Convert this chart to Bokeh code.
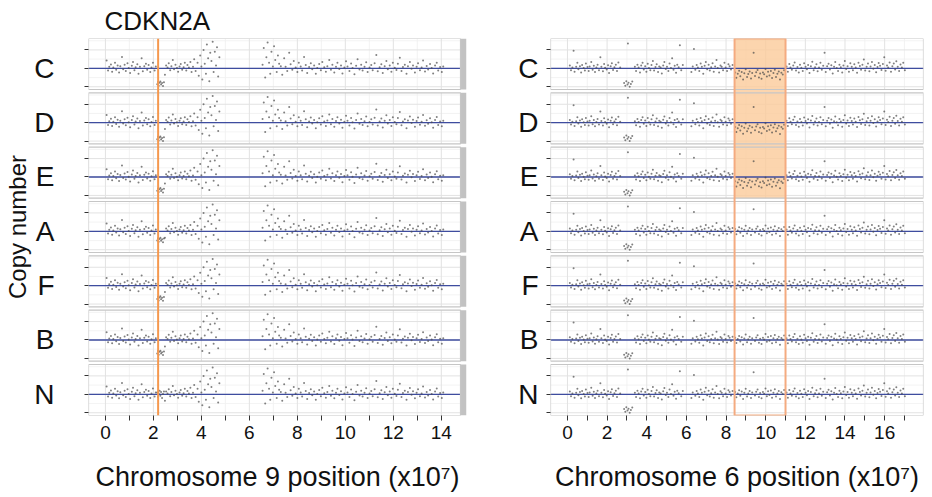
import numpy as np
from bokeh.plotting import figure
from bokeh.layouts import row
from bokeh.models import Range1d, FixedTicker, CustomJSTickFormatter, Span
from bokeh.embed import file_html
from bokeh.resources import INLINE

# ---------------------------------------------------------------- data
SAMPLES = ["C", "D", "E", "A", "F", "B", "N"]

# Chromosome 9 probes: position (x10^7) and log-ratio deviation from the baseline
CHR9_P_DISTAL_POS = [0.05, 0.11, 0.16, 0.23, 0.28, 0.33, 0.40, 0.45, 0.51, 0.57,
                     0.62, 0.69, 0.74, 0.80, 0.85, 0.92, 0.97, 1.03, 1.10, 1.15,
                     1.21, 1.26, 1.33, 1.38, 1.44, 1.51, 1.56, 1.62, 1.69, 1.74,
                     1.80, 1.87, 1.92, 1.98, 2.05, 2.10]
CHR9_P_DISTAL_DEV = [0.42, -0.12, 0.08, 0.21, -0.18, 0.05, 0.30, -0.07, 0.16, -0.22,
                     0.11, 0.62, -0.05, 0.19, -0.14, 0.27, 0.02, -0.25, 0.14, 0.35,
                     -0.10, 0.06, 0.22, -0.30, 0.09, 0.55, -0.16, 0.12, 0.25, -0.08,
                     0.18, -0.20, 0.04, 0.31, -0.12, 0.10]
CHR9_LOCUS_POS = [2.16, 2.19, 2.22, 2.26, 2.29, 2.32, 2.36, 2.40, 2.44]
CHR9_LOCUS_DEV = [0.10, -0.15, 0.05, 0.20, -0.08, 0.12, -0.20, 0.02, 0.15]
CHR9_P_PROX_POS = [2.48, 2.53, 2.59, 2.64, 2.70, 2.75, 2.81, 2.86, 2.92, 2.98,
                   3.03, 3.09, 3.14, 3.20, 3.26, 3.31, 3.37, 3.42, 3.48, 3.54,
                   3.59, 3.65, 3.70, 3.76]
CHR9_P_PROX_DEV = [-0.35, 0.15, 0.05, 0.28, -0.10, 0.12, 0.45, -0.05, 0.20, 0.02,
                   -0.18, 0.10, 0.24, -0.08, 0.06, 0.30, -0.12, 0.18, 0.04, 0.35,
                   -0.20, 0.08, 0.50, -0.15]
CHR9_PERI_P_POS = [3.84, 3.89, 3.95, 4.00, 4.04, 4.09, 4.14, 4.19, 4.23, 4.28,
                   4.33, 4.37, 4.42, 4.47, 4.51, 4.56, 4.61, 4.65, 4.70, 4.75]
CHR9_PERI_P_DEV = [0.30, -0.40, 0.70, 0.10, -0.60, 1.00, 0.25, -0.30, 1.30, 0.55,
                   -0.70, 0.85, 0.40, 1.45, -0.20, 0.90, 0.15, 1.15, -0.45, 0.60]
CHR9_PERI_Q_POS = [6.55, 6.60, 6.66, 6.71, 6.76, 6.82, 6.87, 6.92, 6.98, 7.03,
                   7.08, 7.14, 7.19, 7.24]
CHR9_PERI_Q_DEV = [0.20, 1.10, -0.50, 0.60, 1.40, 0.30, -0.30, 0.90, 0.10, 1.20,
                   0.45, -0.20, 0.70, 0.25]
CHR9_Q_POS = [7.31, 7.37, 7.45, 7.51, 7.58, 7.66, 7.72, 7.79, 7.85, 7.93,
              8.00, 8.06, 8.14, 8.20, 8.28, 8.35, 8.41, 8.49, 8.56, 8.62,
              8.70, 8.77, 8.83, 8.91, 8.98, 9.04, 9.12, 9.19, 9.25, 9.33,
              9.40, 9.46, 9.54, 9.61, 9.67, 9.75, 9.82, 9.88, 9.96, 10.03,
              10.09, 10.17, 10.24, 10.30, 10.38, 10.45, 10.51, 10.59, 10.66, 10.72,
              10.80, 10.87, 10.93, 11.01, 11.08, 11.14, 11.22, 11.29, 11.35, 11.43,
              11.50, 11.56, 11.64, 11.71, 11.77, 11.85, 11.92, 11.98, 12.06, 12.13,
              12.19, 12.27, 12.34, 12.40, 12.48, 12.55, 12.61, 12.69, 12.76, 12.82,
              12.90, 12.97, 13.03, 13.11, 13.18, 13.24, 13.32, 13.39, 13.45, 13.53,
              13.60, 13.66, 13.74, 13.81, 13.87, 13.95, 14.02, 14.08]
CHR9_Q_DEV = [0.12, -0.35, 0.55, 0.08, -0.15, 0.85, 0.22, -0.08, 0.40, 0.05,
              -0.20, 0.30, 0.10, -0.12, 0.62, 0.18, -0.25, 0.07, 0.28, -0.05,
              0.15, -0.30, 0.02, 0.24, -0.10, 0.35, 0.06, -0.18, 0.12, 0.45,
              -0.08, 0.20, -0.22, 0.09, 0.30, -0.04, 0.16, -0.28, 0.05, 0.38,
              0.10, -0.15, 0.26, 0.02, -0.32, 0.14, 0.50, -0.06, 0.20, -0.12,
              0.08, 0.33, -0.20, 0.04, 0.18, -0.10, 0.27, 0.72, -0.16, 0.06,
              0.22, -0.26, 0.11, 0.40, -0.05, 0.15, -0.18, 0.30, 0.03, -0.09,
              0.25, 0.58, -0.14, 0.07, 0.19, -0.30, 0.12, 0.34, -0.02, 0.16,
              -0.22, 0.09, 0.28, -0.11, 0.05, 0.42, -0.17, 0.13, -0.06, 0.24,
              0.02, -0.28, 0.15, 0.31, -0.12, 0.07, -0.20, 0.10]

# CDKN2A locus: position and per-sample level of the loss (N keeps two copies)
CDKN2A_X = 2.197
CDKN2A_LOSS = [-0.82, -0.85, -0.70, -0.45, -0.68, -0.68, None]
CDKN2A_SPREAD = [-0.05, 0.08, -0.12, 0.04, 0.10, -0.06, 0.02, -0.14, 0.06]

# Chromosome 6 probes
CHR6_P1_POS = [0.12, 0.18, 0.25, 0.31, 0.36, 0.44, 0.50, 0.55, 0.63, 0.69,
               0.74, 0.82, 0.88, 0.93, 1.01, 1.07, 1.12, 1.20, 1.27, 1.33,
               1.39, 1.46, 1.52, 1.59, 1.66, 1.71, 1.79, 1.85, 1.90, 1.98,
               2.05, 2.10, 2.18, 2.24, 2.30, 2.37, 2.44, 2.50, 2.57, 2.66]
CHR6_P1_DEV = [0.15, -0.10, 0.05, 0.95, -0.18, 0.08, 0.30, -0.05, 0.12, -0.22,
               0.18, 0.02, -0.12, 0.26, 0.07, -0.15, 0.10, 0.35, -0.08, 0.14,
               -0.20, 0.04, 0.20, -0.10, 0.60, 0.09, -0.16, 0.24, 0.03, -0.06,
               0.17, -0.25, 0.11, 0.28, -0.09, 0.06, 0.19, -0.14, 0.32, 0.05]
CHR6_DIP_POS = [2.86, 2.92, 2.97, 3.03, 3.05, 3.08, 3.14, 3.20, 3.27]
CHR6_DIP_DEV = [-0.80, -0.95, -0.70, -0.88, 1.35, -0.78, -1.00, -0.85, -0.72]
CHR6_P2_POS = [3.40, 3.46, 3.53, 3.59, 3.66, 3.72, 3.79, 3.85, 3.92, 3.98,
               4.05, 4.11, 4.18, 4.24, 4.31, 4.37, 4.44, 4.50, 4.57, 4.63,
               4.70, 4.76, 4.83, 4.89, 4.96, 5.02, 5.09, 5.15, 5.22, 5.28,
               5.35, 5.41, 5.48, 5.54, 5.61, 5.67, 5.74, 5.82]
CHR6_P2_DEV = [0.08, -0.14, 0.20, 0.04, -0.22, 0.15, 0.30, -0.06, 0.12, -0.18,
               0.25, 0.02, -0.10, 0.18, 0.40, -0.12, 0.07, 0.22, -0.20, 0.10,
               0.05, -0.28, 0.16, 0.34, -0.04, 0.09, -0.15, 0.26, 0.02, 0.55,
               -0.08, 0.14, -0.24, 0.20, 0.06, 1.25, -0.10, 0.18]
CHR6_Q1_POS = [6.25, 6.32, 6.38, 6.45, 6.52, 6.58, 6.65, 6.72, 6.78, 6.85,
               6.92, 6.98, 7.05, 7.12, 7.18, 7.25, 7.32, 7.38, 7.45, 7.52,
               7.58, 7.65, 7.72, 7.78, 7.85, 7.92, 7.98, 8.05, 8.12, 8.18,
               8.25, 8.33]
CHR6_Q1_DEV = [-0.20, 0.10, 1.05, -0.08, 0.18, 0.04, -0.15, 0.26, 0.08, -0.30,
               0.14, 0.35, -0.05, 0.20, -0.12, 0.06, 0.28, -0.18, 0.10, 0.45,
               0.02, -0.22, 0.16, 0.09, -0.10, 0.30, 0.05, -0.14, 0.22, 0.12,
               -0.06, 0.18]
CHR6_Q2_POS = [8.46, 8.52, 8.59, 8.66, 8.72, 8.79, 8.86, 8.92, 8.99, 9.06,
               9.12, 9.19, 9.26, 9.32, 9.39, 9.46, 9.52, 9.59, 9.66, 9.72,
               9.79, 9.86, 9.92, 9.99, 10.06, 10.12, 10.19, 10.26, 10.32, 10.39,
               10.46, 10.52, 10.59, 10.66, 10.72, 10.79, 10.86, 10.93]
CHR6_Q2_DEV = [0.12, -0.16, 0.05, 0.22, -0.08, 0.15, -0.25, 0.08, 0.30, -0.12,
               0.04, 0.18, -0.20, 0.10, 1.20, -0.06, 0.14, 0.26, -0.15, 0.07,
               -0.22, 0.12, 0.03, 0.32, -0.10, 0.16, -0.04, 0.21, -0.18, 0.09,
               0.27, -0.12, 0.05, 0.18, -0.26, 0.11, 0.02, 0.24]
CHR6_Q3_POS = [11.05, 11.12, 11.19, 11.25, 11.32, 11.39, 11.46, 11.53, 11.60, 11.67,
               11.73, 11.80, 11.87, 11.94, 12.01, 12.08, 12.14, 12.21, 12.28, 12.35,
               12.42, 12.49, 12.56, 12.62, 12.69, 12.76, 12.83, 12.90, 12.97, 13.03,
               13.10, 13.17, 13.24, 13.31, 13.38, 13.45, 13.51, 13.58, 13.65, 13.72,
               13.79, 13.86, 13.92, 13.99, 14.06, 14.13, 14.20, 14.27, 14.34, 14.40,
               14.47, 14.54, 14.61, 14.68, 14.75, 14.81, 14.88, 14.95, 15.02, 15.09,
               15.16, 15.23, 15.29, 15.36, 15.43, 15.50, 15.57, 15.64, 15.70, 15.77,
               15.84, 15.91, 15.98, 16.05, 16.12, 16.18, 16.25, 16.32, 16.39, 16.46,
               16.53, 16.59, 16.66, 16.73, 16.80, 16.87, 16.94, 17.02]
CHR6_Q3_DEV = [0.10, -0.18, 0.24, 0.05, -0.08, 0.16, 0.32, -0.12, 0.07, -0.22,
               0.20, 0.03, -0.15, 0.28, 0.09, -0.05, 0.18, -0.26, 0.12, 0.36,
               -0.10, 0.06, 0.22, -0.16, 0.04, 0.30, -0.08, 0.14, 0.85, -0.20,
               0.11, 0.25, -0.06, 0.17, -0.28, 0.08, 0.34, 0.02, -0.14, 0.20,
               0.06, -0.22, 0.15, 0.40, -0.04, 0.12, -0.18, 0.27, 0.09, -0.10,
               0.22, 0.05, -0.24, 0.31, 0.13, -0.07, 0.19, 0.48, -0.12, 0.08,
               0.26, -0.16, 0.10, 0.35, -0.02, 0.18, -0.21, 0.07, 0.29, 0.14,
               -0.09, 0.23, 0.60, -0.13, 0.16, 0.04, 0.32, -0.18, 0.11, 0.26,
               -0.06, 0.38, 0.09, -0.15, 0.21, 0.05, 0.30, -0.10]

# 6q region with a one-copy loss in C, D and E
CHR6_LOSS_START, CHR6_LOSS_END = 8.43, 11.0
CHR6_LOSS_SHIFT = [-0.35, -0.35, -0.35, 0.0, 0.0, 0.0, 0.0]

# ---------------------------------------------------------------- layout
FONT = "Liberation Sans"
PITCH = 2.95            # vertical distance between sample panels
LOW, HIGH = -1.15, 1.62  # panel extent around each baseline
Y_BOTTOM = -PITCH * (len(SAMPLES) - 1) + LOW

GRID_MAJOR = "#e2e2e2"
GRID_MINOR = "#f0f0f0"
BORDER = "#c6c6c6"
BASE_BLUE = "#3e4c9f"
ORANGE = "#f5984e"


def baseline(k):
    return -PITCH * k


def new_figure(width, border_left, border_right, x0, x1, xlabel, tick_max):
    p = figure(width=width, height=497, x_range=Range1d(x0, x1),
               y_range=Range1d(Y_BOTTOM, HIGH), output_backend="svg",
               toolbar_location=None, min_border_left=border_left,
               min_border_right=border_right, min_border_top=36,
               min_border_bottom=82)
    p.xgrid.visible = False
    p.ygrid.visible = False
    p.outline_line_color = None
    p.background_fill_color = "white"
    p.border_fill_color = "white"

    # x axis: ticks every unit, labels every second unit
    xa = p.xaxis[0]
    xa.ticker = FixedTicker(ticks=list(range(0, tick_max + 1, 2)),
                            minor_ticks=list(range(1, tick_max + 1, 2)))
    xa.axis_line_color = None
    xa.major_tick_in = 0
    xa.major_tick_out = 5
    xa.minor_tick_in = 0
    xa.minor_tick_out = 5
    xa.major_tick_line_color = "#333333"
    xa.minor_tick_line_color = "#333333"
    xa.major_label_text_font = FONT
    xa.major_label_text_font_size = "19px"
    xa.major_label_text_color = "#111111"
    xa.major_label_standoff = 5
    xa.axis_label = xlabel
    xa.axis_label_text_font = FONT
    xa.axis_label_text_font_size = "27px"
    xa.axis_label_text_font_style = "normal"
    xa.axis_label_text_color = "#111111"
    xa.axis_label_standoff = 20

    # y axis: three ticks per panel, sample letter on the middle one
    ticks = []
    for k in range(len(SAMPLES)):
        b = baseline(k)
        ticks += [b - 1.0, b, b + 1.0]
    ya = p.yaxis[0]
    ya.ticker = FixedTicker(ticks=ticks, minor_ticks=[])
    ya.formatter = CustomJSTickFormatter(
        args=dict(letters=SAMPLES, pitch=PITCH),
        code="""
            const k = Math.round(-tick / pitch);
            return Math.abs(tick + k * pitch) < 0.01 ? letters[k] : "";
        """)
    ya.axis_line_color = None
    ya.major_tick_in = 0
    ya.major_tick_out = 4
    ya.major_tick_line_color = "#333333"
    ya.minor_tick_out = 0
    ya.major_label_text_font = FONT
    ya.major_label_text_font_size = "28px"
    ya.major_label_text_color = "#111111"
    return p


def draw_panels(p, x0, x1, grid_max):
    bases = [baseline(k) for k in range(len(SAMPLES))]
    p.quad(left=[x0] * len(bases), right=[x1] * len(bases),
           bottom=[b + LOW for b in bases], top=[b + HIGH for b in bases],
           fill_color="white", line_color=None)
    maj_x, maj_y, min_x, min_y = [], [], [], []
    for b in bases:
        for gx in range(0, grid_max + 1):
            tx, ty = (maj_x, maj_y) if gx % 2 == 0 else (min_x, min_y)
            tx.append([gx, gx])
            ty.append([b + LOW, b + HIGH])
        for gy in (-1.0, 0.0, 1.0):
            maj_x.append([x0, x1])
            maj_y.append([b + gy, b + gy])
        for gy in (-0.5, 0.5, 1.5):
            min_x.append([x0, x1])
            min_y.append([b + gy, b + gy])
    p.multi_line(xs=min_x, ys=min_y, line_color=GRID_MINOR, line_width=0.8)
    p.multi_line(xs=maj_x, ys=maj_y, line_color=GRID_MAJOR, line_width=1)


def draw_baselines(p, x0, x1):
    bases = [baseline(k) for k in range(len(SAMPLES))]
    p.segment(x0=[x0] * len(bases), x1=[x1] * len(bases), y0=bases, y1=bases,
              line_color=BASE_BLUE, line_width=1.3)


def draw_borders(p, x0, x1):
    bases = [baseline(k) for k in range(len(SAMPLES))]
    p.quad(left=[x0] * len(bases), right=[x1] * len(bases),
           bottom=[b + LOW for b in bases], top=[b + HIGH for b in bases],
           fill_color=None, line_color=BORDER, line_width=1.2)


def draw_points(p, xs, ys):
    p.scatter(x=xs, y=ys, marker="circle", size=2.0, fill_color="#4a4a4a",
              fill_alpha=0.7, line_color=None)


# ---------------------------------------------------------------- chromosome 9
X9_0, X9_1 = -0.705, 14.8      # panel extent
X9_STRIP = 15.05               # right edge of the facet strip

chr9_pos = np.array(CHR9_P_DISTAL_POS + CHR9_P_PROX_POS + CHR9_PERI_P_POS
                    + CHR9_PERI_Q_POS + CHR9_Q_POS)
chr9_dev = np.array(CHR9_P_DISTAL_DEV + CHR9_P_PROX_DEV + CHR9_PERI_P_DEV
                    + CHR9_PERI_Q_DEV + CHR9_Q_DEV)
locus_pos = np.array(CHR9_LOCUS_POS)

p9 = new_figure(470, 88, 4, X9_0, X9_STRIP,
                "Chromosome 9 position (x10\u2077)", 14)
p9.title.text = "CDKN2A"
p9.title.text_font = FONT
p9.title.text_font_size = "26px"
p9.title.text_font_style = "normal"
p9.title.text_color = "#111111"
p9.title.align = "left"
p9.title.offset = 16
p9.title.standoff = 6
p9.yaxis[0].major_label_standoff = 30
p9.yaxis[0].axis_label = "Copy number"
p9.yaxis[0].axis_label_text_font = FONT
p9.yaxis[0].axis_label_text_font_size = "24px"
p9.yaxis[0].axis_label_text_font_style = "normal"
p9.yaxis[0].axis_label_text_color = "#111111"
p9.yaxis[0].axis_label_standoff = 0

draw_panels(p9, X9_0, X9_1, 14)
bases = [baseline(k) for k in range(len(SAMPLES))]
p9.quad(left=[X9_1] * len(bases), right=[X9_STRIP] * len(bases),
        bottom=[b + LOW for b in bases], top=[b + HIGH for b in bases],
        fill_color="#c2c2c2", line_color=None)
draw_baselines(p9, X9_0, X9_1)

xs9, ys9 = [], []
for k, loss in enumerate(CDKN2A_LOSS):
    b = baseline(k)
    xs9.append(chr9_pos)
    ys9.append(b + chr9_dev)
    xs9.append(locus_pos)
    if loss is None:
        ys9.append(b + np.array(CHR9_LOCUS_DEV))
    else:
        ys9.append(b + loss + np.array(CDKN2A_SPREAD))
draw_points(p9, np.concatenate(xs9), np.concatenate(ys9))
draw_borders(p9, X9_0, X9_1)
p9.add_layout(Span(location=CDKN2A_X, dimension="height",
                   line_color=ORANGE, line_width=2))

# ---------------------------------------------------------------- chromosome 6
X6_0, X6_1 = -0.855, 17.96

chr6_pos = np.array(CHR6_P1_POS + CHR6_DIP_POS + CHR6_P2_POS + CHR6_Q1_POS
                    + CHR6_Q2_POS + CHR6_Q3_POS)
chr6_dev = np.array(CHR6_P1_DEV + CHR6_DIP_DEV + CHR6_P2_DEV + CHR6_Q1_DEV
                    + CHR6_Q2_DEV + CHR6_Q3_DEV)
in_loss = (chr6_pos >= CHR6_LOSS_START) & (chr6_pos <= CHR6_LOSS_END)

p6 = new_figure(462, 80, 9, X6_0, X6_1,
                "Chromosome 6 position (x10\u2077)", 17)
p6.yaxis[0].major_label_standoff = 8

draw_panels(p6, X6_0, X6_1, 17)
# shaded region over the samples carrying the 6q loss
n_loss = sum(1 for s in CHR6_LOSS_SHIFT if s != 0)
p6.quad(left=[CHR6_LOSS_START], right=[CHR6_LOSS_END],
        bottom=[baseline(n_loss - 1) + LOW], top=[HIGH],
        fill_color="#fbcb9a", fill_alpha=0.8, line_color=None)
draw_baselines(p6, X6_0, X6_1)

xs6, ys6 = [], []
for k, shift in enumerate(CHR6_LOSS_SHIFT):
    b = baseline(k)
    xs6.append(chr6_pos)
    ys6.append(b + chr6_dev + np.where(in_loss, shift, 0.0))
draw_points(p6, np.concatenate(xs6), np.concatenate(ys6))
draw_borders(p6, X6_0, X6_1)
p6.quad(left=[CHR6_LOSS_START], right=[CHR6_LOSS_END],
        bottom=[Y_BOTTOM], top=[HIGH],
        fill_color=None, line_color="#f4ab80", line_width=2)

layout = row(p9, p6)
open("out.html", "w").write(file_html(layout, INLINE))
